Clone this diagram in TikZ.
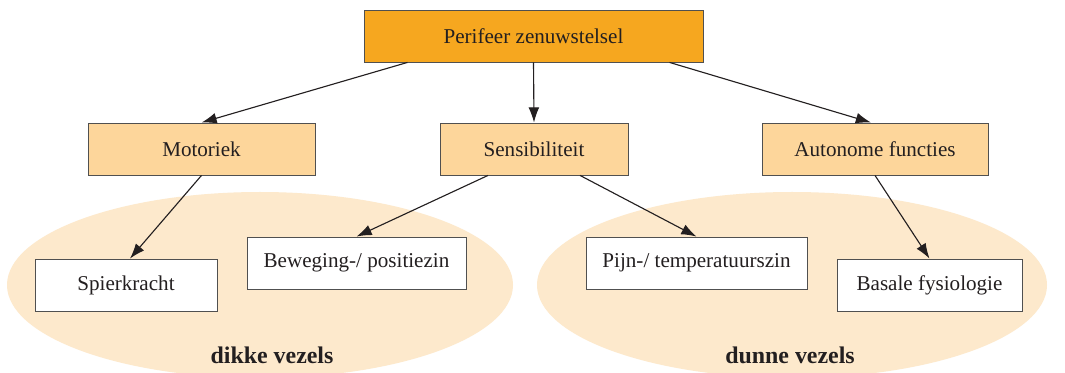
\documentclass[tikz,border=0pt]{standalone}
\usepackage{tikz}
\usepackage{xcolor}
\usepackage{fontspec}
\setmainfont{Liberation Serif}
\usetikzlibrary{arrows.meta}

\definecolor{toporanje}{HTML}{F6A71F}
\definecolor{lichtoranje}{HTML}{FDD69B}
\definecolor{ellipskleur}{HTML}{FDE9CC}
\definecolor{randgrijs}{HTML}{505050}
\definecolor{tekstgrijs}{HTML}{231F20}

\begin{document}
\begin{tikzpicture}[x=0.025cm, y=-0.025cm,
    vak/.style={draw=randgrijs, line width=0.6pt, minimum height=1.3cm, inner sep=0pt,
                text=tekstgrijs, font=\fontsize{15}{17}\selectfont},
    hoofdvak/.style={vak, fill=toporanje},
    groepvak/.style={vak, fill=lichtoranje},
    eindvak/.style={vak, fill=white},
    pijl/.style={line width=0.8pt, draw=tekstgrijs, -{Latex[length=3.8mm, width=2.7mm]}},
    vezel/.style={text=tekstgrijs, font=\fontsize{17}{19}\selectfont\bfseries}]
\clip (0,0) rectangle (1065,373);
\fill[white] (0,0) rectangle (1065,373);
% vezelgroepen
\fill[ellipskleur] (260,285) ellipse [x radius=253, y radius=93];
\fill[ellipskleur] (792,285) ellipse [x radius=255, y radius=93];
\node[vezel] (dik) at (272,355) {dikke vezels};
\node[vezel] (dun) at (790,355) {dunne vezels};
% bovenste niveau
\node[hoofdvak, minimum width=8.475cm] (per) at (533.5,36) {Perifeer zenuwstelsel};
% tweede niveau
\node[groepvak, minimum width=5.675cm] (mot) at (201.5,149) {Motoriek};
\node[groepvak, minimum width=4.7cm] (sen) at (534,149) {Sensibiliteit};
\node[groepvak, minimum width=5.65cm] (aut) at (875,149) {Autonome functies};
% onderste niveau
\node[eindvak, minimum width=4.55cm] (spi) at (126,285) {Spierkracht};
\node[eindvak, minimum width=5.475cm] (bew) at (356.5,263) {Beweging-/ positiezin};
\node[eindvak, minimum width=5.525cm] (pijn) at (696.5,263) {Pijn-/ temperatuurszin};
\node[eindvak, minimum width=4.625cm] (bas) at (929.5,285) {Basale fysiologie};
% pijlen
\draw[pijl] ([xshift=-3.15cm]per.south) -- (mot.north);
\draw[pijl] (per.south) -- (sen.north);
\draw[pijl] ([xshift=3.4cm]per.south) -- ([xshift=-0.1cm]aut.north);
\draw[pijl] (mot.south) -- ([xshift=0.1cm]spi.north);
\draw[pijl] ([xshift=-1.15cm]sen.south) -- (bew.north);
\draw[pijl] ([xshift=1.15cm]sen.south) -- (pijn.north);
\draw[pijl] (aut.south) -- (bas.north);
\end{tikzpicture}
\end{document}
